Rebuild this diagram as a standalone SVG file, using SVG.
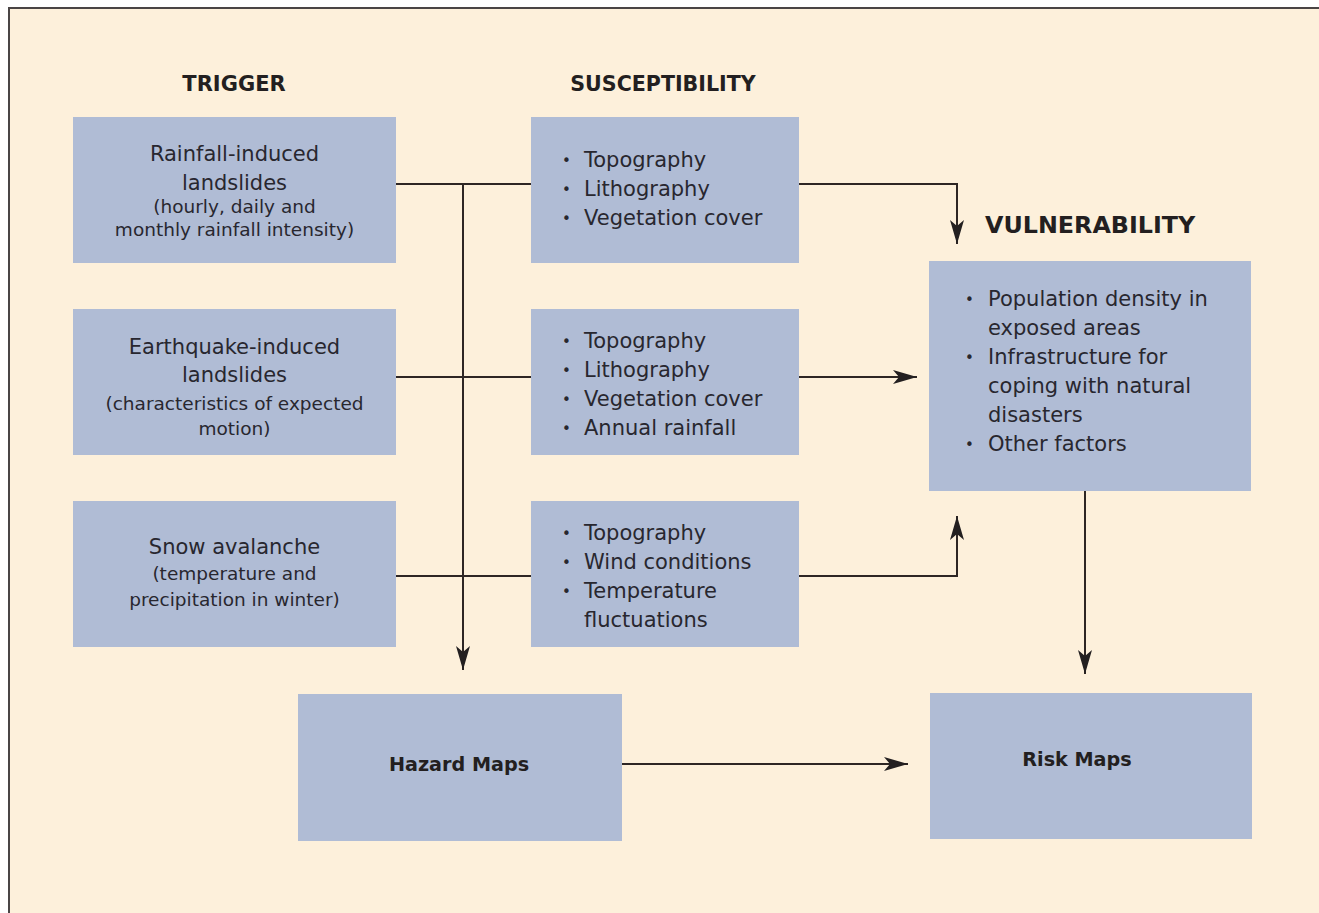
<svg xmlns="http://www.w3.org/2000/svg" width="1319" height="913" viewBox="0 0 1319 913">
<style>
.box{fill:#b0bcd5}
.t{font-family:"DejaVu Sans",sans-serif;fill:#28272f;font-size:21px}
.b{font-family:"DejaVu Sans",sans-serif;fill:#28272f;font-size:15px}
.s{font-family:"DejaVu Sans",sans-serif;fill:#28272f;font-size:18.5px}
.h{font-family:"DejaVu Sans",sans-serif;fill:#231f20;font-weight:bold}
.c{text-anchor:middle}
.ln{fill:none;stroke:#2e2624;stroke-width:2}
</style>
<defs>
<marker id="ah" viewBox="0 0 24 14" refX="24" refY="7" markerWidth="24" markerHeight="14" markerUnits="userSpaceOnUse" orient="auto">
<path d="M0,0 L24,7 L0,14 L6,7 Z" fill="#231f20"/>
</marker>
</defs>
<rect width="1319" height="913" fill="#ffffff"/>
<rect x="9" y="8" width="1310" height="905" fill="#fdf0db"/>
<path d="M9,913 V8 H1319" fill="none" stroke="#4a4545" stroke-width="2"/>

<g id="headings">
<text class="h c" x="234" y="91" font-size="21">TRIGGER</text>
<text class="h c" x="663" y="91" font-size="20.6">SUSCEPTIBILITY</text>
<text class="h" x="985" y="233" font-size="23.8">VULNERABILITY</text>
</g>

<g id="connectors">
<path class="ln" d="M396,184 H531"/>
<path class="ln" d="M463,184 V670" marker-end="url(#ah)"/>
<path class="ln" d="M799,184 H957 V244" marker-end="url(#ah)"/>
<path class="ln" d="M396,377 H531"/>
<path class="ln" d="M799,377 H917" marker-end="url(#ah)"/>
<path class="ln" d="M396,576 H531"/>
<path class="ln" d="M799,576 H957 V516" marker-end="url(#ah)"/>
<path class="ln" d="M1085,491 V674" marker-end="url(#ah)"/>
<path class="ln" d="M622,764 H908" marker-end="url(#ah)"/>
</g>

<g id="trigger-rainfall">
<rect class="box" x="73" y="117" width="323" height="146"/>
<text class="t c" x="234.5" y="161">Rainfall-induced</text>
<text class="t c" x="234.5" y="190">landslides</text>
<text class="s c" x="234.5" y="213">(hourly, daily and</text>
<text class="s c" x="234.5" y="236">monthly rainfall intensity)</text>
</g>

<g id="trigger-earthquake">
<rect class="box" x="73" y="309" width="323" height="146"/>
<text class="t c" x="234.5" y="354">Earthquake-induced</text>
<text class="t c" x="234.5" y="382">landslides</text>
<text class="s c" x="234.5" y="410">(characteristics of expected</text>
<text class="s c" x="234.5" y="435">motion)</text>
</g>

<g id="trigger-snow">
<rect class="box" x="73" y="501" width="323" height="146"/>
<text class="t c" x="234.5" y="554">Snow avalanche</text>
<text class="s c" x="234.5" y="580">(temperature and</text>
<text class="s c" x="234.5" y="606">precipitation in winter)</text>
</g>

<g id="susc-rainfall">
<rect class="box" x="531" y="117" width="268" height="146"/>
<text class="b" x="562" y="166">•</text><text class="t" x="584" y="167">Topography</text>
<text class="b" x="562" y="195">•</text><text class="t" x="584" y="196">Lithography</text>
<text class="b" x="562" y="224">•</text><text class="t" x="584" y="225">Vegetation cover</text>
</g>

<g id="susc-earthquake">
<rect class="box" x="531" y="309" width="268" height="146"/>
<text class="b" x="562" y="347">•</text><text class="t" x="584" y="348">Topography</text>
<text class="b" x="562" y="376">•</text><text class="t" x="584" y="377">Lithography</text>
<text class="b" x="562" y="405">•</text><text class="t" x="584" y="406">Vegetation cover</text>
<text class="b" x="562" y="434">•</text><text class="t" x="584" y="435">Annual rainfall</text>
</g>

<g id="susc-snow">
<rect class="box" x="531" y="501" width="268" height="146"/>
<text class="b" x="562" y="539">•</text><text class="t" x="584" y="540">Topography</text>
<text class="b" x="562" y="568">•</text><text class="t" x="584" y="569">Wind conditions</text>
<text class="b" x="562" y="597">•</text><text class="t" x="584" y="598">Temperature</text>
<text class="t" x="584" y="627">fluctuations</text>
</g>

<g id="vulnerability">
<rect class="box" x="929" y="261" width="322" height="230"/>
<text class="b" x="965" y="305">•</text><text class="t" x="988" y="306">Population density in</text>
<text class="t" x="988" y="335">exposed areas</text>
<text class="b" x="965" y="363">•</text><text class="t" x="988" y="364">Infrastructure for</text>
<text class="t" x="988" y="393">coping with natural</text>
<text class="t" x="988" y="422">disasters</text>
<text class="b" x="965" y="450">•</text><text class="t" x="988" y="451">Other factors</text>
</g>

<g id="hazard-maps">
<rect class="box" x="298" y="694" width="324" height="147"/>
<text class="h c" x="459" y="771" font-size="19.2">Hazard Maps</text>
</g>

<g id="risk-maps">
<rect class="box" x="930" y="693" width="322" height="146"/>
<text class="h c" x="1077" y="766" font-size="19.2">Risk Maps</text>
</g>
</svg>
